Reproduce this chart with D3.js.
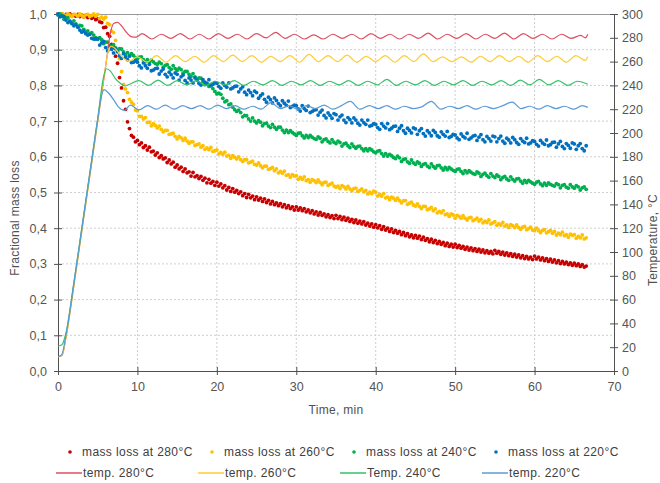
<!DOCTYPE html>
<html>
<head>
<meta charset="utf-8">
<script src="https://cdn.jsdelivr.net/npm/d3@7"></script>
<style>
  body { margin: 0; background: #fff; }
  svg { font-family: "Liberation Sans", Arial, sans-serif; }
</style>
</head>
<body>
<svg id="chart" width="660" height="483"></svg>
<script>
// ---- data ----
// mass loss sampled every 0.25 min from t = 0
var massStep = 0.25;

var mass280 = [
1.000,0.998,1.000,0.996,0.999,0.997,1.000,0.995,0.998,0.994,0.999,0.993,0.997,0.992,0.996,0.990,0.994,0.988,0.991,0.984,
0.987,0.978,0.976,0.962,0.963,0.945,0.938,0.915,0.907,0.882,0.862,0.822,0.793,0.757,0.733,0.698,0.679,0.660,0.655,0.642,
0.646,0.634,0.639,0.626,0.631,0.619,0.627,0.614,0.616,0.605,0.611,0.598,0.603,0.594,0.597,0.584,0.591,0.580,0.585,0.571,
0.577,0.566,0.571,0.559,0.566,0.555,0.558,0.546,0.556,0.544,0.547,0.539,0.545,0.534,0.540,0.527,0.537,0.526,0.531,0.520,
0.529,0.518,0.524,0.513,0.519,0.507,0.514,0.503,0.511,0.501,0.506,0.497,0.502,0.491,0.497,0.486,0.495,0.485,0.490,0.480,
0.488,0.479,0.484,0.475,0.482,0.472,0.478,0.468,0.475,0.466,0.471,0.463,0.469,0.460,0.466,0.457,0.463,0.455,0.460,0.451,
0.460,0.451,0.457,0.449,0.455,0.446,0.451,0.443,0.449,0.440,0.446,0.437,0.444,0.436,0.440,0.432,0.438,0.430,0.435,0.427,
0.436,0.427,0.433,0.424,0.431,0.422,0.428,0.419,0.425,0.416,0.423,0.414,0.420,0.412,0.418,0.409,0.414,0.406,0.412,0.403,
0.410,0.401,0.407,0.397,0.404,0.395,0.400,0.391,0.398,0.388,0.394,0.386,0.391,0.382,0.388,0.379,0.385,0.376,0.381,0.373,
0.380,0.372,0.378,0.368,0.375,0.366,0.371,0.362,0.369,0.360,0.366,0.357,0.363,0.355,0.360,0.351,0.358,0.349,0.355,0.347,
0.355,0.346,0.352,0.344,0.349,0.341,0.347,0.339,0.345,0.337,0.343,0.335,0.341,0.333,0.339,0.331,0.337,0.330,0.335,0.328,
0.338,0.330,0.335,0.327,0.333,0.325,0.331,0.323,0.329,0.321,0.327,0.319,0.325,0.317,0.323,0.315,0.321,0.314,0.319,0.312,
0.322,0.314,0.319,0.311,0.317,0.309,0.315,0.307,0.313,0.305,0.311,0.303,0.309,0.301,0.307,0.300,0.305,0.298,0.303,0.296,
0.302,0.295,0.300,0.293,0.298,0.291,0.294];

var mass260 = [
1.000,0.997,1.000,0.998,0.995,1.000,0.997,0.993,0.999,0.998,0.994,1.000,0.996,0.992,0.998,0.999,0.993,0.996,1.000,0.994,
0.999,0.988,0.991,0.986,0.991,0.974,0.970,0.952,0.948,0.926,0.897,0.875,0.839,0.803,0.790,0.780,0.761,0.753,0.747,0.731,
0.729,0.713,0.713,0.706,0.710,0.696,0.697,0.687,0.693,0.688,0.681,0.686,0.677,0.670,0.674,0.674,0.663,0.664,0.666,0.657,
0.650,0.657,0.653,0.646,0.652,0.644,0.638,0.642,0.642,0.632,0.634,0.636,0.627,0.631,0.621,0.625,0.620,0.626,0.615,0.617,
0.619,0.608,0.612,0.607,0.613,0.602,0.604,0.596,0.603,0.599,0.594,0.600,0.592,0.587,0.592,0.592,0.583,0.585,0.588,0.579,
0.577,0.583,0.575,0.569,0.574,0.574,0.565,0.567,0.570,0.561,0.566,0.555,0.559,0.554,0.560,0.548,0.550,0.543,0.550,0.546,
0.547,0.537,0.542,0.537,0.544,0.533,0.536,0.529,0.536,0.533,0.528,0.535,0.528,0.522,0.528,0.529,0.520,0.523,0.526,0.518,
0.515,0.518,0.511,0.519,0.516,0.510,0.517,0.510,0.505,0.511,0.512,0.503,0.506,0.510,0.502,0.506,0.496,0.501,0.497,0.504,
0.501,0.490,0.495,0.490,0.497,0.485,0.487,0.480,0.487,0.484,0.478,0.484,0.477,0.471,0.477,0.477,0.467,0.470,0.473,0.465,
0.462,0.468,0.461,0.455,0.461,0.461,0.452,0.454,0.458,0.449,0.454,0.443,0.447,0.443,0.449,0.438,0.440,0.433,0.440,0.437,
0.428,0.436,0.433,0.428,0.435,0.428,0.423,0.429,0.430,0.421,0.424,0.428,0.420,0.425,0.415,0.420,0.416,0.423,0.412,0.415,
0.418,0.408,0.413,0.409,0.416,0.406,0.409,0.402,0.410,0.407,0.402,0.409,0.402,0.397,0.403,0.405,0.396,0.399,0.403,0.395,
0.393,0.400,0.393,0.388,0.394,0.396,0.387,0.390,0.394,0.386,0.391,0.381,0.386,0.382,0.389,0.379,0.382,0.375,0.383,0.380,
0.382,0.372,0.377,0.373,0.381,0.370,0.373];

var mass240 = [
0.997,1.000,0.996,0.985,0.989,0.989,0.979,0.973,0.981,0.972,0.964,0.968,0.967,0.957,0.949,0.953,0.945,0.948,0.941,0.934,
0.929,0.934,0.928,0.917,0.921,0.921,0.912,0.906,0.914,0.905,0.899,0.903,0.902,0.894,0.886,0.892,0.884,0.889,0.884,0.878,
0.874,0.879,0.880,0.872,0.866,0.872,0.865,0.871,0.866,0.861,0.859,0.865,0.861,0.851,0.856,0.858,0.850,0.845,0.855,0.847,
0.842,0.848,0.844,0.834,0.839,0.839,0.831,0.825,0.833,0.824,0.817,0.821,0.820,0.810,0.802,0.806,0.797,0.799,0.791,0.783,
0.776,0.778,0.775,0.764,0.754,0.757,0.746,0.748,0.739,0.732,0.727,0.731,0.724,0.712,0.716,0.715,0.706,0.700,0.709,0.700,
0.695,0.701,0.697,0.687,0.693,0.694,0.686,0.682,0.691,0.683,0.677,0.683,0.683,0.675,0.668,0.675,0.668,0.673,0.668,0.664,
0.660,0.666,0.667,0.659,0.653,0.660,0.654,0.660,0.655,0.651,0.649,0.656,0.652,0.642,0.648,0.650,0.643,0.639,0.648,0.641,
0.637,0.644,0.640,0.630,0.636,0.638,0.631,0.626,0.636,0.629,0.624,0.629,0.630,0.623,0.617,0.623,0.617,0.623,0.619,0.614,
0.611,0.616,0.617,0.609,0.602,0.609,0.602,0.607,0.603,0.598,0.595,0.602,0.597,0.587,0.593,0.594,0.586,0.582,0.591,0.583,
0.579,0.586,0.582,0.573,0.579,0.581,0.574,0.570,0.580,0.573,0.568,0.575,0.576,0.569,0.563,0.570,0.564,0.570,0.566,0.562,
0.559,0.565,0.566,0.559,0.553,0.561,0.555,0.561,0.557,0.553,0.551,0.558,0.554,0.545,0.551,0.554,0.547,0.543,0.553,0.546,
0.542,0.549,0.545,0.536,0.542,0.545,0.538,0.534,0.544,0.537,0.532,0.538,0.539,0.532,0.526,0.534,0.528,0.534,0.530,0.526,
0.523,0.529,0.531,0.524,0.519,0.526,0.520,0.527,0.523,0.520,0.518,0.525,0.522,0.513,0.520,0.522,0.515,0.512,0.522,0.516,
0.512,0.519,0.516,0.507,0.513,0.516,0.509];

var mass220 = [
1.000,0.992,0.994,0.993,0.983,0.976,0.980,0.974,0.967,0.970,0.963,0.955,0.949,0.952,0.945,0.941,0.943,0.932,0.930,0.930,
0.931,0.913,0.919,0.923,0.906,0.897,0.909,0.901,0.891,0.903,0.894,0.883,0.876,0.889,0.879,0.872,0.882,0.864,0.865,0.869,
0.865,0.855,0.849,0.863,0.855,0.848,0.859,0.841,0.843,0.847,0.848,0.832,0.840,0.846,0.831,0.824,0.837,0.830,0.821,0.835,
0.831,0.815,0.824,0.829,0.814,0.807,0.821,0.815,0.807,0.821,0.815,0.806,0.801,0.816,0.809,0.804,0.816,0.800,0.803,0.808,
0.806,0.797,0.792,0.807,0.800,0.795,0.807,0.790,0.793,0.797,0.798,0.782,0.790,0.796,0.781,0.774,0.787,0.780,0.771,0.784,
0.780,0.764,0.771,0.776,0.761,0.753,0.767,0.760,0.751,0.765,0.758,0.749,0.743,0.757,0.750,0.744,0.756,0.738,0.741,0.745,
0.743,0.734,0.728,0.743,0.735,0.730,0.742,0.724,0.727,0.731,0.732,0.717,0.725,0.731,0.716,0.709,0.723,0.716,0.708,0.721,
0.718,0.703,0.712,0.717,0.703,0.696,0.710,0.704,0.695,0.709,0.703,0.694,0.689,0.703,0.696,0.691,0.703,0.686,0.688,0.693,
0.691,0.682,0.677,0.693,0.686,0.681,0.693,0.676,0.680,0.685,0.686,0.671,0.680,0.687,0.673,0.666,0.680,0.674,0.667,0.681,
0.678,0.663,0.673,0.679,0.665,0.658,0.673,0.667,0.659,0.674,0.668,0.659,0.655,0.670,0.663,0.658,0.671,0.654,0.657,0.663,
0.661,0.653,0.648,0.664,0.657,0.653,0.666,0.649,0.653,0.658,0.660,0.646,0.655,0.662,0.648,0.642,0.657,0.651,0.644,0.658,
0.656,0.642,0.651,0.658,0.644,0.638,0.652,0.647,0.639,0.654,0.648,0.640,0.635,0.651,0.644,0.640,0.652,0.636,0.639,0.645,
0.643,0.635,0.630,0.646,0.639,0.635,0.647,0.631,0.634,0.640,0.641,0.627,0.636,0.643,0.629,0.623,0.637,0.632,0.624,0.639,
0.636,0.621,0.631,0.637,0.623,0.617,0.631];

// temperature, [time min, °C]
var temp280 = [[0,12],[0.5,13],[1,28],[2,72],[3,118],[4,164],[5,210],[6,256],[6.6,284],[7,292],[7.5,293],[8,290],[8.5,285.5],[9.2,281],[9.8,280.5],
[10.6,283.5],[11.8,279],[13,283],[14.2,279.5],[15.4,283.5],[16.6,279],[17.8,283],[19,279],[20.2,283.5],[21.4,279.5],[22.6,283],[23.8,279],
[25,283.5],[26.2,280],[27.4,284.5],[28.6,279.5],[29.8,283],[31,279],[32.2,282.5],[33.4,279],[34.6,283],[35.8,279.5],[37,283],[38.2,279],
[39.4,283.5],[40.6,279.5],[41.8,283],[43,279],[44.2,283],[45.4,279.5],[46.6,284],[47.8,279],[49,283],[50.2,279.5],[51.4,283.5],[52.6,279],
[53.8,283],[55,279.5],[56.2,284],[57.4,279],[58.6,283.5],[59.8,279.5],[61,283],[62.2,279],[63.4,283],[64.6,279.5],[65.8,282],[66.4,280],[66.7,283]];

var temp260 = [[0,12],[0.5,13],[1,28],[2,72],[3,118],[4,164],[5,210],[5.8,248],[6.3,268],[6.7,273],[7.2,271],[7.8,266],[8.4,262],[9,260.5],
[10,264],[11.2,259.5],[12.4,265],[13.6,259.5],[14.8,265],[16,260],[17.2,264.5],[18.4,259.5],[19.6,265],[20.8,260],[22,265.5],[23.2,260],
[24.4,265],[25.6,259.5],[26.8,264.5],[28,260],[29.2,265],[30.4,259.5],[31.6,266],[32.8,260],[34,265],[35.2,260],[36.4,265.5],[37.6,259.5],
[38.8,264.5],[40,260],[41.2,265],[42.4,259.5],[43.6,265],[44.8,260],[46,266.5],[47.2,260],[48.4,264],[49.6,260],[50.8,264],[52,259.5],
[53.2,264.5],[54.4,260],[55.6,265],[56.8,260],[58,264.5],[59.2,259.5],[60.4,265],[61.6,260],[62.8,264.5],[64,259.5],[65.2,265],[66.4,261],[66.7,264]];

var temp240 = [[0,21],[0.5,22],[1,32],[2,74],[3,120],[4,166],[5,212],[5.7,246],[6.1,254],[6.6,252],[7.2,246],[7.8,242],[8.4,239.5],[9,241],
[10.2,244],[11.4,240],[12.6,244.5],[13.8,240],[15,244],[16.2,240.5],[17.4,244],[18.6,240],[19.8,243.5],[21,240.5],[22.2,244],[23.4,240],
[24.6,243.5],[25.8,240.5],[27,244],[28.2,240],[29.4,243.5],[30.6,240.5],[31.8,244],[33,240],[34.2,243.5],[35.4,240.5],[36.6,244],[37.8,240],
[39,243.5],[40.2,240.5],[41.4,245],[42.6,240],[43.8,243.5],[45,240.5],[46.2,244],[47.4,240],[48.6,243.5],[49.8,240.5],[51,244],[52.2,240],
[53.4,243.5],[54.6,240.5],[55.8,244],[57,240],[58.2,244.5],[59.4,240.5],[60.6,245],[61.8,240.5],[63,244],[64.2,240],[65.4,243.5],[66.7,241]];

var temp220 = [[0,12],[0.5,14],[1,30],[2,74],[3,120],[4,166],[5,212],[5.5,232],[5.8,236.5],[6.3,234],[7,228],[7.6,222],[8.4,219],[9.1,223.5],
[10.2,219.5],[11.3,223],[12.4,220],[13.5,223.5],[14.6,220],[15.7,223],[16.8,220.5],[17.9,223],[19,220],[20.1,223.5],[21.2,220.5],[22.3,223],
[23.4,220],[24.5,222.5],[25.6,220],[26.8,225.5],[28,220.5],[29.1,223],[30.2,220],[31.3,223],[32.4,220.5],[33.5,223.5],[34.6,220],[35.7,223],
[36.8,226.5],[38,220],[39.2,223],[40.3,220.5],[41.4,223],[42.5,220],[43.6,222.5],[44.7,220.5],[45.8,222],[47,226.5],[48.2,220],[49.3,222.5],
[50.4,220.5],[51.5,223],[52.6,220],[53.7,222.5],[54.8,220.5],[56,223],[57.2,226],[58.3,220.5],[59.4,222.5],[60.5,220],[61.6,223],[62.7,220.5],
[63.8,222.5],[64.9,220],[66,223],[66.7,221.5]];

var massNames = ["mass loss at 280°C", "mass loss at 260°C", "mass loss at 240°C", "mass loss at 220°C"];
var tempNames = ["temp. 280°C", "temp. 260°C", "Temp. 240°C", "temp. 220°C"];
var dotColors = ["#c80000", "#ffc000", "#00b050", "#0070c0"];
var lineColors = ["#dc4f62", "#ffcc33", "#35c06a", "#5b9bd5"];

var xTicks = [0, 10, 20, 30, 40, 50, 60, 70];
var yTicks = [0, 0.1, 0.2, 0.3, 0.4, 0.5, 0.6, 0.7, 0.8, 0.9, 1.0];
var tTicks = [0, 20, 40, 60, 80, 100, 120, 140, 160, 180, 200, 220, 240, 260, 280, 300];

// ---- layout ----
var margin = { top: 14, right: 46, bottom: 112, left: 58 };
var width = 660 - margin.left - margin.right,
    height = 483 - margin.top - margin.bottom;

var svg = d3.select("#chart");
var g = svg.append("g")
    .attr("transform", "translate(" + margin.left + "," + margin.top + ")");

var xScale = d3.scaleLinear().domain([0, 70]).range([0, width]);
var yScale = d3.scaleLinear().domain([0, 1]).range([height, 0]);
var tScale = d3.scaleLinear().domain([0, 300]).range([height, 0]);

var comma = function(d) { return d3.format(".1f")(d).replace(".", ","); };

// grid
g.selectAll(".vgrid")
  .data(xTicks.filter(function(d) { return d > 0 && d < 70; }))
  .enter().append("line")
    .attr("x1", function(d) { return xScale(d); })
    .attr("x2", function(d) { return xScale(d); })
    .attr("y1", 0).attr("y2", height)
    .attr("stroke", "#cfcfcf").attr("stroke-dasharray", "2,2");

g.selectAll(".hgrid")
  .data(yTicks.filter(function(d) { return d > 0 && d < 1; }))
  .enter().append("line")
    .attr("x1", 0).attr("x2", width)
    .attr("y1", function(d) { return yScale(d); })
    .attr("y2", function(d) { return yScale(d); })
    .attr("stroke", "#cfcfcf").attr("stroke-dasharray", "2,2");

// top border
g.append("line")
  .attr("x1", 0).attr("x2", width).attr("y1", 0.5).attr("y2", 0.5)
  .attr("stroke", "#9a9a9a");

// axes
var xAxis = g.append("g")
  .attr("transform", "translate(0," + height + ")")
  .call(d3.axisBottom(xScale).tickValues(xTicks).tickSizeOuter(0).tickSize(4).tickPadding(7));
xAxis.selectAll(".tick line").attr("y1", -4).attr("y2", 4);

var yAxis = g.append("g")
  .call(d3.axisLeft(yScale).tickValues(yTicks).tickFormat(comma).tickSizeOuter(0).tickSize(4).tickPadding(7));
yAxis.selectAll(".tick line").attr("x1", 4).attr("x2", -4);

var tAxis = g.append("g")
  .attr("transform", "translate(" + width + ",0)")
  .call(d3.axisRight(tScale).tickValues(tTicks).tickSizeOuter(0).tickSize(4).tickPadding(4));
tAxis.selectAll(".tick line").attr("x1", -4).attr("x2", 4);

[xAxis, yAxis, tAxis].forEach(function(a) {
  a.select(".domain").attr("stroke", "#505050");
  a.selectAll(".tick line").attr("stroke", "#505050");
  a.selectAll(".tick text")
    .attr("fill", "#555")
    .style("font-size", "12.5px")
    .style("font-family", "'Liberation Sans', Arial, sans-serif");
});

// mass loss points
var massSeries = [mass280, mass260, mass240, mass220];
massSeries.forEach(function(series, i) {
  g.append("g").selectAll("circle")
    .data(series)
    .enter().append("circle")
      .attr("cx", function(d, k) { return xScale(k * massStep); })
      .attr("cy", function(d) { return yScale(d); })
      .attr("r", 1.9)
      .attr("fill", dotColors[i]);
});

// temperature lines
var line = d3.line()
  .curve(d3.curveMonotoneX)
  .x(function(d) { return xScale(d[0]); })
  .y(function(d) { return tScale(d[1]); });

[temp280, temp260, temp240, temp220].forEach(function(series, i) {
  g.append("path")
    .datum(series)
    .attr("d", line)
    .attr("fill", "none")
    .attr("stroke", lineColors[i])
    .attr("stroke-width", 1.2);
});

// axis titles
svg.append("text")
  .attr("transform", "translate(19,218) rotate(-90)")
  .attr("text-anchor", "middle")
  .attr("fill", "#505050")
  .style("font-size", "12px")
  .style("letter-spacing", "0.3px")
  .text("Fractional mass loss");

svg.append("text")
  .attr("transform", "translate(657,240) rotate(-90)")
  .attr("text-anchor", "middle")
  .attr("fill", "#505050")
  .style("font-size", "12px")
  .style("letter-spacing", "0.3px")
  .text("Temperature, °C");

svg.append("text")
  .attr("x", margin.left + width / 2).attr("y", 414)
  .attr("text-anchor", "middle")
  .attr("fill", "#505050")
  .style("font-size", "12px")
  .style("letter-spacing", "0.3px")
  .text("Time, min");

// legend
var legend = svg.append("g").style("font-size", "12px").style("letter-spacing", "0.4px");

massNames.forEach(function(name, i) {
  var x = 82 + i * 142;
  legend.append("circle")
    .attr("cx", x - 12).attr("cy", 452).attr("r", 1.8)
    .attr("fill", dotColors[i]);
  legend.append("text")
    .attr("x", x).attr("y", 456)
    .attr("fill", "#404040")
    .text(name);
});

tempNames.forEach(function(name, i) {
  var x = 83 + i * 142;
  legend.append("line")
    .attr("x1", x - 27).attr("x2", x - 1)
    .attr("y1", 473).attr("y2", 473)
    .attr("stroke", lineColors[i]).attr("stroke-width", 1.5);
  legend.append("text")
    .attr("x", x).attr("y", 477)
    .attr("fill", "#404040")
    .text(name);
});
</script>
</body>
</html>
